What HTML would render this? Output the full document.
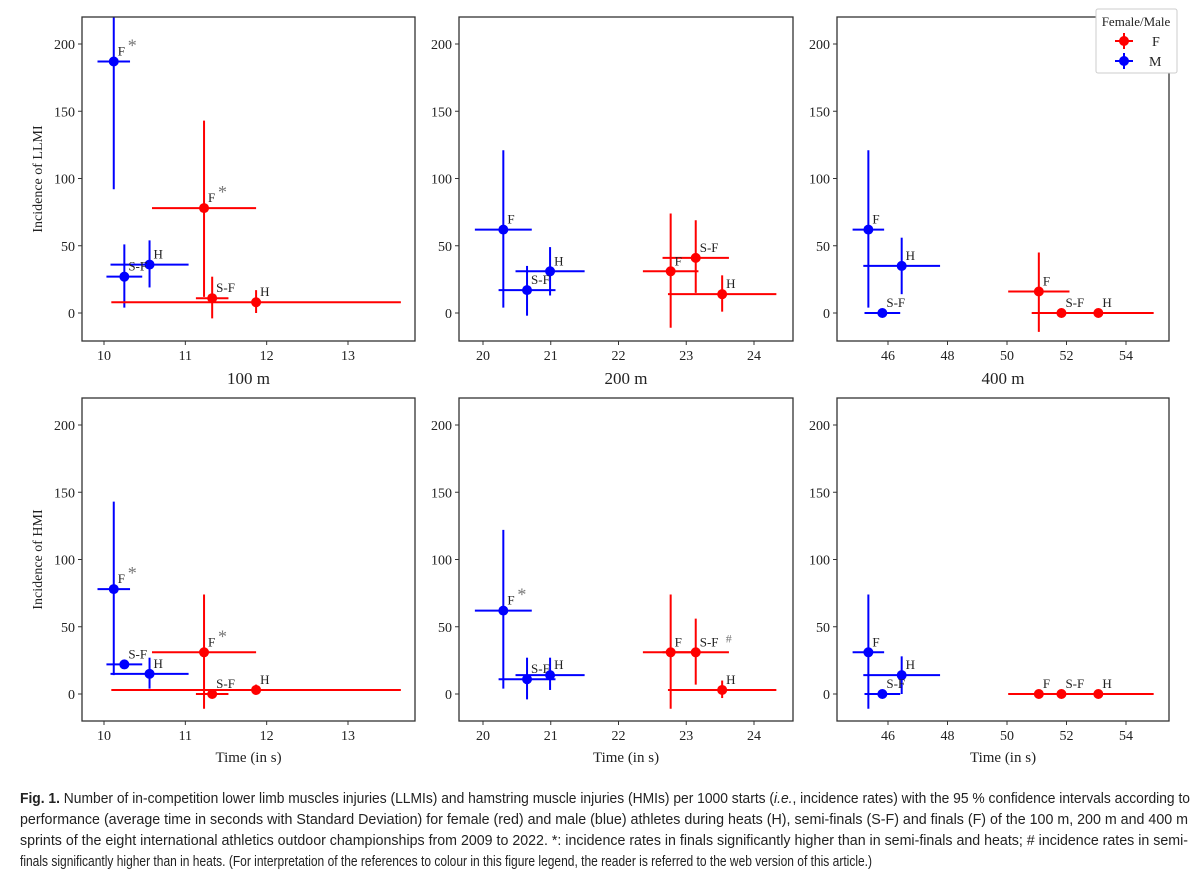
<!DOCTYPE html>
<html><head><meta charset="utf-8"><style>
html,body{margin:0;padding:0;background:#fff;width:1200px;height:877px;overflow:hidden}
svg{display:block}
.t{font-family:"Liberation Serif",serif;fill:#222}
.cap{font-family:"Liberation Sans Narrow","Liberation Sans",sans-serif;fill:#222;font-size:15px}
</style></head><body>
<svg id="fig" width="1200" height="877">
<g id="panels"></g>
<g>
<rect x="1096" y="9" width="81" height="64" fill="#fff" stroke="#ccc" rx="2"/>
<text class="t" x="1136" y="26" text-anchor="middle" font-size="13">Female/Male</text>
<line x1="1115" y1="41" x2="1133" y2="41" stroke="red" stroke-width="2"/><line x1="1124" y1="33" x2="1124" y2="49" stroke="red" stroke-width="2"/><circle cx="1124" cy="41" r="5" fill="red"/>
<text class="t" x="1152" y="46" font-size="14">F</text>
<line x1="1115" y1="61" x2="1133" y2="61" stroke="blue" stroke-width="2"/><line x1="1124" y1="53" x2="1124" y2="69" stroke="blue" stroke-width="2"/><circle cx="1124" cy="61" r="5" fill="blue"/>
<text class="t" x="1149" y="66" font-size="14">M</text>
</g>
<g>
<text class="cap" x="20" y="803" textLength="1170" lengthAdjust="spacingAndGlyphs"><tspan font-weight="bold">Fig. 1.</tspan> Number of in-competition lower limb muscles injuries (LLMIs) and hamstring muscle injuries (HMIs) per 1000 starts (<tspan font-style="italic">i.e.</tspan>, incidence rates) with the 95 % confidence intervals according to</text>
<text class="cap" x="20" y="824" textLength="1168" lengthAdjust="spacingAndGlyphs">performance (average time in seconds with Standard Deviation) for female (red) and male (blue) athletes during heats (H), semi-finals (S-F) and finals (F) of the 100 m, 200 m and 400 m</text>
<text class="cap" x="20" y="845" textLength="1168" lengthAdjust="spacingAndGlyphs">sprints of the eight international athletics outdoor championships from 2009 to 2022. *: incidence rates in finals significantly higher than in semi-finals and heats; # incidence rates in semi-</text>
<text class="cap" x="20" y="866" textLength="852" lengthAdjust="spacingAndGlyphs">finals significantly higher than in heats. (For interpretation of the references to colour in this figure legend, the reader is referred to the web version of this article.)</text>
</g>
</svg>
<script>
// labels order per panel: M F, M S-F, M H, F F, F S-F, F H
const pointLabels = ["F","S-F","H","F","S-F","H"];
const pointSex = ["M","M","M","F","F","F"];
// 100 m
const t100 = [10.12,10.25,10.56,11.23,11.33,11.87];
const sd100 = [0.2,0.22,0.48,0.64,0.2,1.78];
const llmi100 = [187,27,36,78,11,8];
const llmi100lo = [92,4,19,12,-4,0];
const llmi100hi = [290,51,54,143,27,17];
const llmi100mark = ["*","","","*","",""];
const hmi100 = [78,22,15,31,0,3];
const hmi100lo = [14,22,4,-11,0,0];
const hmi100hi = [143,22,27,74,0,7];
const hmi100mark = ["*","","","*","",""];
// 200 m
const t200 = [20.30,20.65,20.99,22.77,23.14,23.53];
const sd200 = [0.42,0.42,0.51,0.41,0.49,0.8];
const llmi200 = [62,17,31,31,41,14];
const llmi200lo = [4,-2,13,-11,15,1];
const llmi200hi = [121,35,49,74,69,28];
const llmi200mark = ["","","","","",""];
const hmi200 = [62,11,14,31,31,3];
const hmi200lo = [4,-4,3,-11,7,-3];
const hmi200hi = [122,27,27,74,56,10];
const hmi200mark = ["*","","","","#",""];
// 400 m
const t400 = [45.34,45.81,46.46,51.07,51.83,53.07];
const sd400 = [0.53,0.6,1.29,1.03,1.0,1.86];
const llmi400 = [62,0,35,16,0,0];
const llmi400lo = [4,0,14,-14,0,0];
const llmi400hi = [121,0,56,45,0,0];
const llmi400mark = ["","","","","",""];
const hmi400 = [31,0,14,0,0,0];
const hmi400lo = [-11,0,0,0,0,0];
const hmi400hi = [74,0,28,0,0,0];
const hmi400mark = ["","","","","",""];
const yTicks = [0,50,100,150,200];
const xTicks100 = [10,11,12,13];
const xTicks200 = [20,21,22,23,24];
const xTicks400 = [46,48,50,52,54];

const NS="http://www.w3.org/2000/svg";
const root=document.getElementById('panels');
function mk(tag,attrs,parent){const e=document.createElementNS(NS,tag);for(const k in attrs)e.setAttribute(k,attrs[k]);parent.appendChild(e);return e;}

const cols=[
 {L:82,R:415,x0:10,px0:104,x1:13,px1:348,ticks:xTicks100,name:"100m",t:t100,sd:sd100},
 {L:459,R:793,x0:20,px0:483,x1:24,px1:754,ticks:xTicks200,name:"200m",t:t200,sd:sd200},
 {L:837,R:1169,x0:46,px0:888,x1:54,px1:1126,ticks:xTicks400,name:"400m",t:t400,sd:sd400}
];
const rows=[
 {T:17,B:341,y0px:313,y200px:44,name:"llmi",data:[[llmi100,llmi100lo,llmi100hi,llmi100mark],[llmi200,llmi200lo,llmi200hi,llmi200mark],[llmi400,llmi400lo,llmi400hi,llmi400mark]]},
 {T:398,B:721,y0px:694,y200px:425,name:"hmi",data:[[hmi100,hmi100lo,hmi100hi,hmi100mark],[hmi200,hmi200lo,hmi200hi,hmi200mark],[hmi400,hmi400lo,hmi400hi,hmi400mark]]}
];

rows.forEach((r,ri)=>{
 cols.forEach((c,ci)=>{
  const g=mk('g',{},root);
  
  
  const sx=v=>c.px0+(v-c.x0)*(c.px1-c.px0)/(c.x1-c.x0);
  const sy=v=>r.y0px+(v)*(r.y200px-r.y0px)/200;
  const clipId='clip'+ri+ci;
  const cp=mk('clipPath',{id:clipId},g);
  mk('rect',{x:c.L,y:r.T,width:c.R-c.L,height:r.B-r.T},cp);
  yTicks.forEach(v=>{
   const y=sy(v);
   mk('line',{x1:c.L-4,y1:y,x2:c.L,y2:y,stroke:'#333','stroke-width':1},g);
   const tx=mk('text',{x:c.L-7,y:y+5,'text-anchor':'end','font-size':14,class:'t'},g);
   tx.textContent=v;
   
   
  });
  c.ticks.forEach(v=>{
   const x=sx(v);
   mk('line',{x1:x,y1:r.B,x2:x,y2:r.B+4,stroke:'#333','stroke-width':1},g);
   const tx=mk('text',{x:x,y:r.B+19,'text-anchor':'middle','font-size':14,class:'t'},g);
   tx.textContent=v;
   
   
  });
  const [vals,lo,hi,mark]=r.data[ci];
  const pg=mk('g',{'clip-path':'url(#'+clipId+')'},g);
  for(let i=0;i<vals.length;i++){
   const col=pointSex[i]==='M'?'blue':'red';
   const x=sx(c.t[i]), y=sy(vals[i]);
   const pt=mk('g',{},pg);
   
   
   mk('line',{x1:sx(c.t[i]-c.sd[i]),y1:y,x2:sx(c.t[i]+c.sd[i]),y2:y,stroke:col,'stroke-width':2},pt);
   if(hi[i]!==lo[i]) mk('line',{x1:x,y1:sy(lo[i]),x2:x,y2:sy(hi[i]),stroke:col,'stroke-width':2},pt);
   mk('circle',{cx:x,cy:y,r:5,fill:col},pt);
  }
  for(let i=0;i<vals.length;i++){
   const x=sx(c.t[i]), y=sy(vals[i]);
   const lb=mk('text',{x:x+4,y:y-6,'font-size':13,class:'t'},g);
   lb.textContent=pointLabels[i];
   
   
   if(mark[i]){
    const m=mk('text',{x:x+4+(pointLabels[i].length*8)+2,y:y-10,'font-size':mark[i]==='*'?18:12,fill:'#777','font-family':'Liberation Serif, serif'},g);
    m.textContent=mark[i];
    
    
   }
  }
  mk('rect',{x:c.L,y:r.T,width:c.R-c.L,height:r.B-r.T,fill:'none',stroke:'#333','stroke-width':1.3},g);
  if(ci===0){
   const yt=mk('text',{x:0,y:0,'text-anchor':'middle','font-size':14,class:'t',transform:'translate(42,'+((r.T+r.B)/2)+') rotate(-90)'},g);
   yt.textContent= ri===0?'Incidence of LLMI':'Incidence of HMI';
   
   
  }
  const cx=(c.L+c.R)/2;
  const xt=mk('text',{x:cx,y:ri===0?384:762,'text-anchor':'middle','font-size':ri===0?17:15,class:'t'},g);
  xt.textContent= ri===0?c.name.replace('m',' m'):'Time (in s)';
  
  
 });
});
</script>
</body></html>
